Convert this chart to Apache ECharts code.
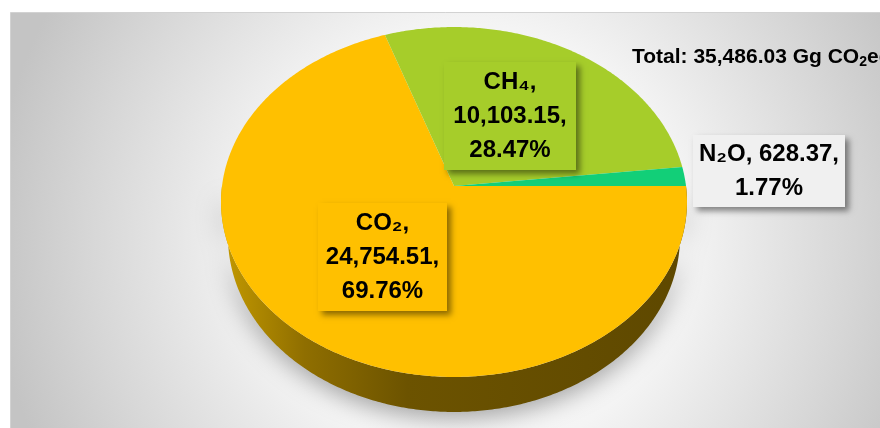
<!DOCTYPE html>
<html>
<head>
<meta charset="utf-8">
<script src="https://cdn.jsdelivr.net/npm/echarts@6/dist/echarts.min.js"></script>
<style>
html, body { margin: 0; padding: 0; background: #fff; }
#main { width: 880px; height: 428px; }
</style>
</head>
<body>
<div id="main"></div>
<script>
var gases = ['CO\u2082', 'CH\u2084', 'N\u2082O'];
var emissions = [24754.51, 10103.15, 628.37];
var colors = ['#ffc000', '#a6cd2a', '#12cf78'];
var unit = 'Gg CO';

// label boxes, same order as gases
var labelBoxes = [
    { x: 318, y: 203, w: 129, h: 108, sep: '\n', fill: '#ffc000' },
    { x: 444, y: 62, w: 132, h: 108, sep: '\n', fill: '#a6cd2a' },
    { x: 693, y: 135, w: 152, h: 72, sep: ' ', fill: '#f0f0f0' }
];

var total = emissions.reduce(function (a, b) { return a + b; }, 0);
var cum = [0];
emissions.forEach(function (v, i) { cum.push(cum[i] + v); });

function fmt(v) {
    return v.toLocaleString('en-US', { minimumFractionDigits: 2, maximumFractionDigits: 2 });
}

// tilted disc seen in perspective
var disc = { cx: 454, cy: 186, rx: 232, ry: 173.5, k: 0.0914, depth: 35, shrink: 0.97 };

function project(phi, bottom) {
    var u = Math.cos(phi), v = Math.sin(phi), d = 1 - disc.k * v;
    var sx = bottom ? disc.shrink : 1;
    return [disc.cx + sx * disc.rx * u / d, disc.cy + (bottom ? disc.depth : 0) + disc.ry * v / d];
}

function arc(a0, a1, bottom) {
    var pts = [];
    var n = Math.max(2, Math.ceil(Math.abs(a1 - a0) / 0.01));
    for (var i = 0; i <= n; i++) {
        pts.push(project(a0 + (a1 - a0) * i / n, bottom));
    }
    return pts;
}

var font = "'Liberation Sans', Arial, sans-serif";
var myChart = echarts.init(document.getElementById('main'));

var option = {
    animation: false,
    title: {
        text: '{a|Total: ' + fmt(total) + ' ' + unit + '}{s|2}{a|eq}',
        left: 627,
        top: 40,
        textStyle: {
            rich: {
                a: { fontFamily: font, fontWeight: 'bold', fontSize: 21, color: '#000', lineHeight: 25 },
                s: { fontFamily: font, fontWeight: 'bold', fontSize: 14, color: '#000', lineHeight: 25, padding: [10, 0, 0, 0] }
            }
        }
    },
    graphic: [
        {
            type: 'rect',
            z: -10,
            shape: { x: 10.5, y: 12.5, width: 880, height: 430 },
            style: {
                fill: new echarts.graphic.RadialGradient(470, 240, 480, [
                    { offset: 0, color: '#ffffff' },
                    { offset: 0.45, color: '#f4f4f4' },
                    { offset: 0.8, color: '#d6d6d6' },
                    { offset: 1, color: '#c4c4c4' }
                ], true),
                stroke: '#d2d2d2',
                lineWidth: 1
            }
        }
    ],
    series: [
        {
            // side wall of the disc
            type: 'custom',
            coordinateSystem: 'none',
            z: 1,
            data: [total],
            renderItem: function () {
                var pts = arc(0, Math.PI, false).concat(arc(Math.PI, 0, true));
                return {
                    type: 'polygon',
                    shape: { points: pts },
                    style: {
                        fill: new echarts.graphic.LinearGradient(221, 0, 687, 0, [
                            { offset: 0, color: '#c49a00' },
                            { offset: 0.18, color: '#8f6e00' },
                            { offset: 0.4, color: '#6c5300' },
                            { offset: 1, color: '#5e4800' }
                        ], true),
                        shadowBlur: 24,
                        shadowOffsetY: 6,
                        shadowColor: 'rgba(0,0,0,0.35)'
                    }
                };
            }
        },
        {
            type: 'custom',
            coordinateSystem: 'none',
            z: 2,
            data: emissions,
            renderItem: function (params) {
                var i = params.dataIndex;
                var a0 = cum[i] / total * Math.PI * 2;
                var a1 = cum[i + 1] / total * Math.PI * 2;
                var pts = [[disc.cx, disc.cy]].concat(arc(a0, a1, false));
                return {
                    type: 'polygon',
                    shape: { points: pts },
                    style: { fill: colors[i] }
                };
            }
        },
        {
            type: 'custom',
            coordinateSystem: 'none',
            z: 3,
            data: emissions,
            renderItem: function (params) {
                var i = params.dataIndex;
                var b = labelBoxes[i];
                var v = emissions[i];
                var txt = gases[i] + ',' + b.sep + fmt(v) + ',\n' + (v / total * 100).toFixed(2) + '%';
                return {
                    type: 'group',
                    children: [
                        {
                            type: 'rect',
                            shape: { x: b.x, y: b.y, width: b.w, height: b.h },
                            style: {
                                fill: b.fill,
                                shadowBlur: 6,
                                shadowOffsetX: 4,
                                shadowOffsetY: 4,
                                shadowColor: 'rgba(0,0,0,0.45)'
                            }
                        },
                        {
                            type: 'text',
                            x: b.x + b.w / 2,
                            y: b.y + b.h / 2,
                            style: {
                                text: txt,
                                fill: '#000',
                                fontFamily: font,
                                fontWeight: 'bold',
                                fontSize: 24,
                                lineHeight: 34,
                                align: 'center',
                                verticalAlign: 'middle'
                            }
                        }
                    ]
                };
            }
        }
    ]
};

myChart.setOption(option);
</script>
</body>
</html>
